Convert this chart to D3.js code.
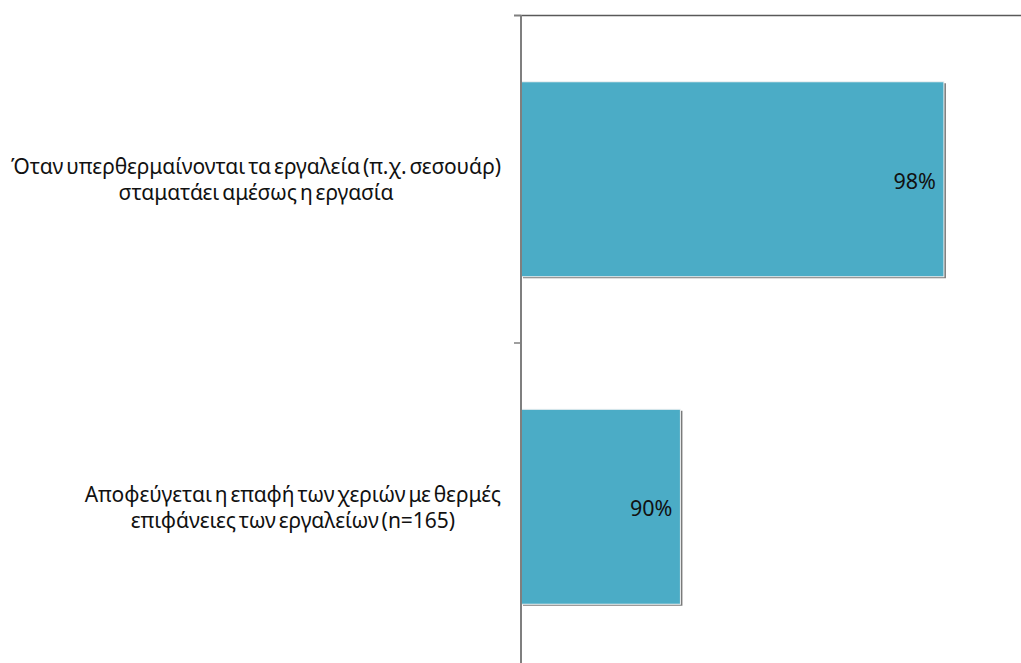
<!DOCTYPE html>
<html>
<head>
<meta charset="utf-8">
<script src="https://cdn.jsdelivr.net/npm/d3@7"></script>
<style>
  html, body { margin: 0; padding: 0; background: #fff; }
  svg { display: block; }
</style>
</head>
<body>
<svg id="chart" width="1021" height="663"></svg>
<script>
// ---- data ----
const categories = [
  "Όταν υπερθερμαίνονται τα εργαλεία (π.χ. σεσουάρ)\nσταματάει αμέσως η εργασία",
  "Αποφεύγεται η επαφή των χεριών με θερμές\nεπιφάνειες των εργαλείων (n=165)"
];
const values = [98.0, 89.9];
const valueLabels = ["98%", "90%"];
const xDomain = [85, 100];

// ---- layout ----
const W = 1021, H = 663;
const axisX = 521;
const svg = d3.select("#chart");

const x = d3.scaleLinear().domain(xDomain).range([axisX, 1009]);
const y = d3.scaleBand().domain(d3.range(categories.length))
  .range([15.5, 670.5]).paddingInner(0.4046).paddingOuter(0.2023);

const font = "'Noto Sans', 'Open Sans', sans-serif";

// top border line
svg.append("line")
  .attr("x1", 514).attr("x2", W)
  .attr("y1", 15.5).attr("y2", 15.5)
  .attr("stroke", "#595959").attr("stroke-width", 1.5);

// bars with shadow
const g = svg.append("g");
categories.forEach((c, i) => {
  const y0 = y(i), bw = y.bandwidth();
  const x1 = x(values[i]);
  g.append("rect")
    .attr("x", axisX + 2).attr("y", y0 + 1.5)
    .attr("width", x1 - axisX).attr("height", bw)
    .attr("fill", "#7a7a7a");
  g.append("rect")
    .attr("x", axisX).attr("y", y0)
    .attr("width", x1 - axisX).attr("height", bw)
    .attr("fill", "#4BACC6")
    .attr("stroke", "#f2f2f2").attr("stroke-width", 1);
  g.append("text")
    .attr("x", x1 - 8).attr("y", y0 + bw / 2 + 9.5)
    .attr("text-anchor", "end")
    .attr("font-family", font).attr("font-size", 21.5)
    .attr("fill", "#111")
    .text(valueLabels[i]);
});

// y axis
const yTicks = [15.5, y.step() + 15.5, 2 * y.step() + 15.5];
svg.append("line")
  .attr("x1", axisX).attr("x2", axisX)
  .attr("y1", 15).attr("y2", H)
  .attr("stroke", "#7f7f7f").attr("stroke-width", 2);
svg.selectAll(".tick").data(yTicks).enter().append("line")
  .attr("x1", 514).attr("x2", axisX)
  .attr("y1", d => d).attr("y2", d => d)
  .attr("stroke", "#7f7f7f").attr("stroke-width", 1.5);

// category labels
const labelSize = 21;
const wordSpacing = -2.5;
const firstLine = categories[0].split("\n")[0];
const probe = svg.append("text")
  .attr("font-family", font).attr("font-size", labelSize)
  .attr("word-spacing", wordSpacing)
  .text(firstLine);
const natural = probe.node().getComputedTextLength();
const ls = (490 - natural) / (firstLine.length - 1);
probe.remove();

categories.forEach((c, i) => {
  const lines = c.split("\n");
  const t = svg.append("text")
    .attr("font-family", font).attr("font-size", labelSize)
    .attr("letter-spacing", ls)
    .attr("word-spacing", wordSpacing)
    .attr("fill", "#111");
  const spans = lines.map(l => t.append("tspan").text(l));
  const maxW = d3.max(spans, s => s.node().getComputedTextLength());
  const cx = 501 - maxW / 2;
  const cy = y(i) + y.bandwidth() / 2;
  t.attr("text-anchor", "middle");
  spans.forEach((s, k) => s.attr("x", cx).attr("y", cy - 5 + k * 26));
});
</script>
</body>
</html>
